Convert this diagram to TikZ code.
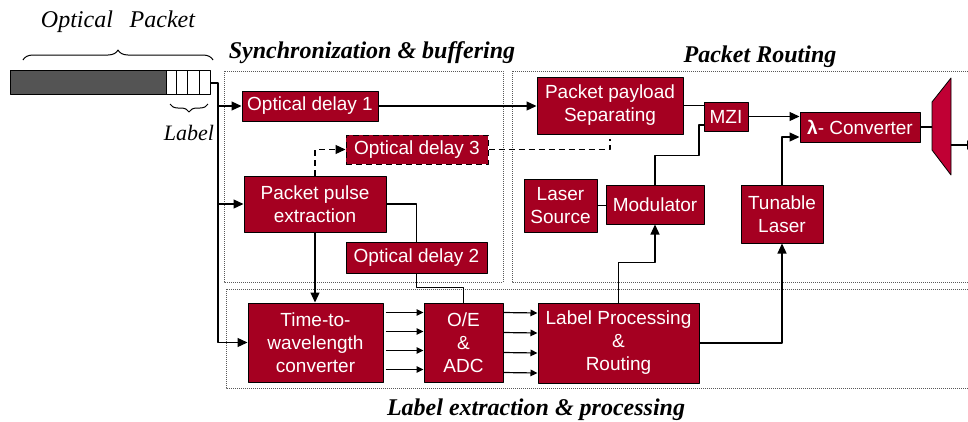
\documentclass[tikz,border=0pt]{standalone}
\usepackage{fontspec}
\setmainfont{Liberation Serif}
\newfontfamily\arialfont{Liberation Sans}
\usepackage{tikz}
\usetikzlibrary{arrows.meta,calc,decorations.pathreplacing}
\definecolor{blockred}{RGB}{165,0,33}
\definecolor{demuxred}{RGB}{192,0,52}

\begin{document}
\begin{tikzpicture}[x=1pt,y=-1pt,>={Triangle[length=10pt,width=9pt]},line join=round,
  blk/.style={draw=black,line width=1pt,fill=blockred,text=white,inner sep=2pt,align=center,font=\arialfont\fontsize{19}{23}\selectfont},
  wire/.style={line width=1.2pt},
  longdash/.style={dash pattern=on 6pt off 4pt},
  tinyarrow/.style={line width=1.2pt,-{Triangle[length=7pt,width=6.5pt]}},
  frame/.style={draw=gray!70!black,line width=1pt,densely dotted},
  title/.style={font=\fontsize{24}{28}\selectfont\bfseries\itshape,anchor=base}]
  \useasboundingbox (0,0) rectangle (968,421);
  \draw[frame] (224,71) rectangle (503,282);
  \draw[frame] (512,71) rectangle (990,282);
  \draw[frame] (226,289) rectangle (990,388);
  \node[title] (synctitle) at (372,58) {Synchronization \& buffering};
  \node[title] (routetitle) at (760,62) {Packet Routing};
  \node[title] (labeltitle) at (536,415) {Label extraction \& processing};
  \draw[fill=black!67,line width=0.8pt] (10,70) rectangle (166,94);
  \foreach \xa/\xb in {166/176,176/187,187/199,199/210}
    \draw[fill=white,line width=0.8pt] (\xa,70) rectangle (\xb,94);
  \draw[decorate,decoration={brace,amplitude=10pt},line width=1pt] (23,60) -- (213,60);
  \draw[decorate,decoration={brace,amplitude=8pt,mirror},line width=1pt] (170,104) -- (208,104);
  \node[font=\fontsize{24}{28}\selectfont\itshape] (pkttitle) at (118,22) {Optical\hspace{0.7em}Packet};
  \node[font=\fontsize{22}{26}\selectfont\itshape] (lbltxt) at (189,133) {Label};
  \node[blk,minimum width=136pt,minimum height=30pt] (od1) at (310,106) {Optical delay 1};
  \node[blk,longdash,minimum width=142pt,minimum height=29pt] (od3) at (417,149.5) {Optical delay 3};
  \node[blk,minimum width=142pt,minimum height=56pt] (ppe) at (315,204) {Packet pulse\\extraction};
  \node[blk,minimum width=141pt,minimum height=31pt] (od2) at (416.5,257.5) {Optical delay 2};
  \node[blk,minimum width=135pt,minimum height=79pt] (ttw) at (315.5,342.5) {Time-to-\\wavelength\\converter};
  \node[blk,minimum width=79pt,minimum height=79pt] (oe) at (463.5,342.5) {O/E\\\&\\ADC};
  \node[blk,minimum width=161pt,minimum height=80pt] (lpr) at (618.5,343) {Label Processing\\\&\\Routing};
  \node[blk,minimum width=146pt,minimum height=57pt] (pps) at (610,105.5) {Packet payload\\Separating};
  \node[blk,minimum width=44pt,minimum height=29pt] (mzi) at (726,116.5) {MZI};
  \node[blk,minimum width=73pt,minimum height=53pt] (lsrc) at (560.5,205.5) {Laser\\Source};
  \node[blk,minimum width=98pt,minimum height=39pt] (mod) at (655,204.5) {Modulator};
  \node[blk,minimum width=82pt,minimum height=58pt] (tl) at (782,214) {Tunable\\Laser};
  \node[blk,minimum width=120pt,minimum height=30pt] (lconv) at (860,127) {\textbf{λ}- Converter};
  \draw[fill=demuxred,line width=0.8pt] (932,102) -- (951,78) -- (951,175) -- (932,150) -- cycle;
  \coordinate (dmxin) at (932,127);
  \coordinate (dmxout) at (951,145);
  \coordinate (dmxend) at (977,145);
  \coordinate (pkt) at (210,83);
  \coordinate (bus) at (218,83);
  \draw[wire,->] (pkt) -- (bus) |- (ttw.west);
  \draw[wire,->] (bus |- od1.west) -- (od1.west);
  \draw[wire,->] (bus |- ppe.west) -- (ppe.west);
  \draw[wire,->] (od1.east) -- (od1.east -| pps.west);
  \draw[wire,longdash,->] (ppe.north) |- (od3.west);
  \draw[wire,longdash] (od3.east) -| ([yshift=-4pt]pps.south);
  \draw[wire] (pps.east) -- (pps.east -| mzi.west);
  \draw[wire] (mod.north) -- ++(0,-29) -- ++(44,0) |- ([yshift=-8.5pt]mzi.west);
  \draw[wire,->] (mzi.east) -- (mzi.east -| lconv.west);
  \draw[wire,->] (tl.north) |- ([yshift=-10pt]lconv.west);
  \draw[wire] (lconv.east) -- (dmxin);
  \draw[wire,->] (dmxout) -- (dmxend);
  \draw[wire] (lsrc.east) -- (lsrc.east -| mod.west);
  \draw[wire,->] (lpr.north) -- ++(0,-40) -| (mod.south);
  \draw[wire,->] (lpr.east) -| (tl.south);
  \draw[wire,->] (ppe.south) -- (ppe.south |- ttw.north);
  \draw[wire] (ppe.east) -| (od2.north);
  \draw[wire] (od2.south) -- ++(0,14) -| (oe.north);
  \foreach \dy in {30,11,-8,-27}
    \draw[tinyarrow] ([xshift=2pt,yshift=\dy pt]ttw.east) -- ([yshift=\dy pt]oe.west);
  \foreach \dy in {30,10,-10,-30}
    \draw[tinyarrow] ([yshift=\dy pt]oe.east) -- ([yshift=\dy pt]lpr.west);
\end{tikzpicture}
\end{document}
